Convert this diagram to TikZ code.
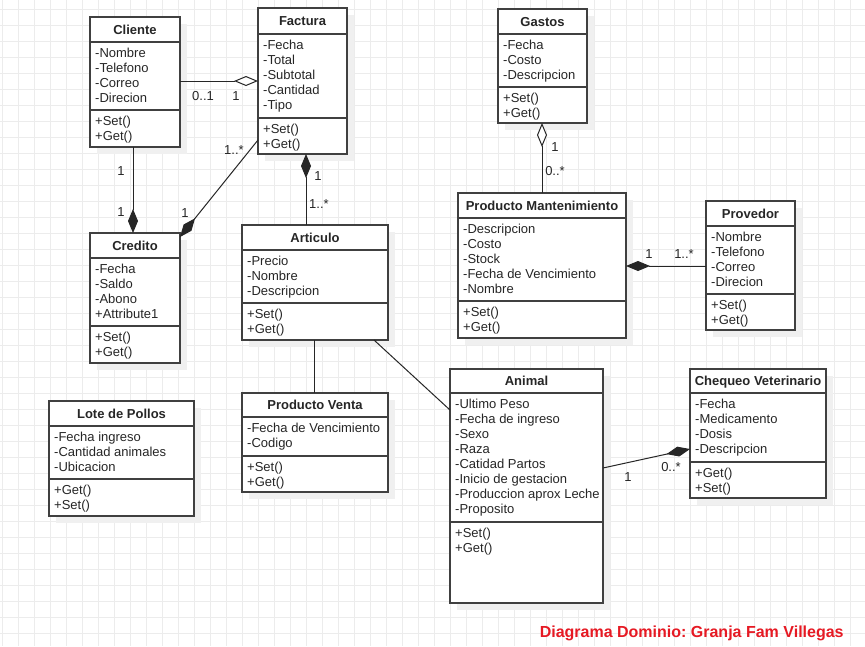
\documentclass[tikz,border=0pt]{standalone}
\usepackage{fontspec}
\setmainfont{Liberation Sans}
\usetikzlibrary{arrows.meta,calc}
\frenchspacing

\definecolor{gridc}{RGB}{236,236,236}
\definecolor{shadowc}{RGB}{240,240,240}
\definecolor{boxline}{RGB}{64,64,64}
\definecolor{txt}{RGB}{38,38,38}
\definecolor{titlered}{RGB}{230,25,35}

\tikzset{
  classbox/.style={rectangle, draw=boxline, line width=1.5pt, fill=white, inner sep=0pt, outer sep=0pt},
  sepline/.style={draw=boxline, line width=1.5pt},
  classname/.style={anchor=base, inner sep=0pt, font=\fontsize{13}{15}\selectfont\bfseries, text=txt},
  member/.style={anchor=base west, inner sep=0pt, font=\fontsize{13}{15}\selectfont, text=txt},
  mult/.style={anchor=base, inner sep=0pt, font=\fontsize{13}{15}\selectfont, text=txt},
  link/.style={draw=black!85, line width=1pt},
  fullD/.tip={Diamond[length=24pt,width=10pt]},
  hollowD/.tip={Diamond[fill=white,length=24pt,width=10pt]}
}

% Box of a class: name, left, top, right, bottom, y of header rule, y of member rule
\newcommand\umlclass[7]{%
  \def\ucL{#2}\def\ucT{#3}\def\ucR{#4}\def\ucH{#6}\def\ucD{#7}%
  \fill[shadowc] ({#2+7},{#3+7}) rectangle ({#4+7},{#5+7});
  \node[classbox, anchor=north west, minimum width={(#4-#2)*1pt}, minimum height={(#5-#3)*1pt}] (#1) at (#2,#3) {};
  \draw[sepline] (#2,#6) -- (#4,#6) (#2,#7) -- (#4,#7);
}
% Texts of the last class box: name, title, attributes, operations
\newcommand\umlbody[4]{%
  \node[classname] (#1-title) at ({(\ucL+\ucR)/2},{(\ucT+\ucH)/2+4.5}) {#2};
  \foreach \m [count=\i] in {#3}
    \node[member] (#1-a\i) at ({\ucL+5},{\ucH+10.5+15*(\i-1)+4.5}) {\m};
  \foreach \m [count=\i] in {#4}
    \node[member] (#1-m\i) at ({\ucL+5},{\ucD+10.5+15*(\i-1)+4.5}) {\m};
}

\begin{document}
\begin{tikzpicture}[x=1pt, y=-1pt]
  \useasboundingbox (0,0) rectangle (865,646);
  \fill[white] (0,0) rectangle (865,646);

  % background grid
  \foreach \k in {0,...,53}
    \draw[gridc, line width=1pt] ({2.3+16*\k},0) -- ({2.3+16*\k},646);
  \foreach \k in {0,...,39}
    \draw[gridc, line width=1pt] (0,{9.3+16*\k}) -- (865,{9.3+16*\k});

  % classes
  \umlclass{cliente}{90}{17}{180}{147}{42}{110}
  \umlbody{cliente}{Cliente}{-Nombre,-Telefono,-Correo,-Direcion}{+Set(),+Get()}

  \umlclass{factura}{258}{8}{347}{154}{34}{118}
  \umlbody{factura}{Factura}{-Fecha,-Total,-Subtotal,-Cantidad,-Tipo}{+Set(),+Get()}

  \umlclass{gastos}{498}{9}{587}{123}{34}{87}
  \umlbody{gastos}{Gastos}{-Fecha,-Costo,-Descripcion}{+Set(),+Get()}

  \umlclass{credito}{90}{233}{180}{363}{258}{326}
  \umlbody{credito}{Credito}{-Fecha,-Saldo,-Abono,+Attribute1}{+Set(),+Get()}

  \umlclass{articulo}{242}{225}{388}{340}{250}{303}
  \umlbody{articulo}{Articulo}{-Precio,-Nombre,-Descripcion}{+Set(),+Get()}

  \umlclass{pmant}{458}{193}{626}{338}{218}{301}
  \umlbody{pmant}{Producto Mantenimiento}{-Descripcion,-Costo,-Stock,-Fecha de Vencimiento,-Nombre}{+Set(),+Get()}

  \umlclass{provedor}{706}{201}{795}{330}{226}{294}
  \umlbody{provedor}{Provedor}{-Nombre,-Telefono,-Correo,-Direcion}{+Set(),+Get()}

  \umlclass{lote}{49}{401}{194}{516}{426}{479}
  \umlbody{lote}{Lote de Pollos}{-Fecha ingreso,-Cantidad animales,-Ubicacion}{+Get(),+Set()}

  \umlclass{pventa}{242}{393}{388}{492}{417}{456}
  \umlbody{pventa}{Producto Venta}{-Fecha de Vencimiento,-Codigo}{+Set(),+Get()}

  \umlclass{animal}{450}{369}{603}{603}{393}{522}
  \umlbody{animal}{Animal}{-Ultimo Peso,-Fecha de ingreso,-Sexo,-Raza,-Catidad Partos,-Inicio de gestacion,-Produccion aprox Leche,-Proposito}{+Set(),+Get()}

  \umlclass{chequeo}{690}{369}{826}{498}{393}{462}
  \umlbody{chequeo}{Chequeo Veterinario}{-Fecha,-Medicamento,-Dosis,-Descripcion}{+Get(),+Set()}

  % associations
  \draw[link, -hollowD] ($(cliente.north east)+(0,64)$) -- ($(factura.north west)+(0,73)$);
  \draw[link, -fullD] ($(cliente.south west)+(43,0)$) -- ($(credito.north west)+(43,0)$);
  \draw[link, -fullD] ($(factura.north west)+(0,132)$) -- ($(credito.north east)+(0,4)$);
  \draw[link, fullD-] ($(factura.south west)+(48,0)$) -- ($(articulo.north west)+(64,0)$);
  \draw[link] ($(articulo.south west)+(72,0)$) -- ($(pventa.north west)+(72,0)$);
  \draw[link] ($(articulo.south west)+(132,0)$) -- ($(animal.north west)+(0,41)$);
  \draw[link, hollowD-] ($(gastos.south west)+(44,0)$) -- ($(pmant.north west)+(84,0)$);
  \draw[link, fullD-] ($(pmant.north east)+(0,73)$) -- ($(provedor.north west)+(0,65)$);
  \draw[link, -fullD] ($(animal.north east)+(0,99)$) -- ($(chequeo.north west)+(0,80)$);

  % multiplicities
  \node[mult] (mcf1) at (203,100.5) {0..1};
  \node[mult] (mcf2) at (236,100.5) {1};
  \node[mult] (mcc1) at (121,175) {1};
  \node[mult] (mcc2) at (121,216) {1};
  \node[mult] (mfc1) at (234,154) {1..*};
  \node[mult] (mfc2) at (185,217.5) {1};
  \node[mult] (mfa1) at (318,180.5) {1};
  \node[mult] (mfa2) at (319,208) {1..*};
  \node[mult] (mgp1) at (555,151.5) {1};
  \node[mult] (mgp2) at (555,175.5) {0..*};
  \node[mult] (mpp1) at (649,258) {1};
  \node[mult] (mpp2) at (684,258) {1..*};
  \node[mult] (mac1) at (628,481) {1};
  \node[mult] (mac2) at (671,471.5) {0..*};

  % caption
  \node[anchor=base, inner sep=0pt, font=\fontsize{16}{19}\selectfont\bfseries, text=titlered] (caption) at (691.7,637.4) {Diagrama Dominio: Granja Fam Villegas};
\end{tikzpicture}
\end{document}
